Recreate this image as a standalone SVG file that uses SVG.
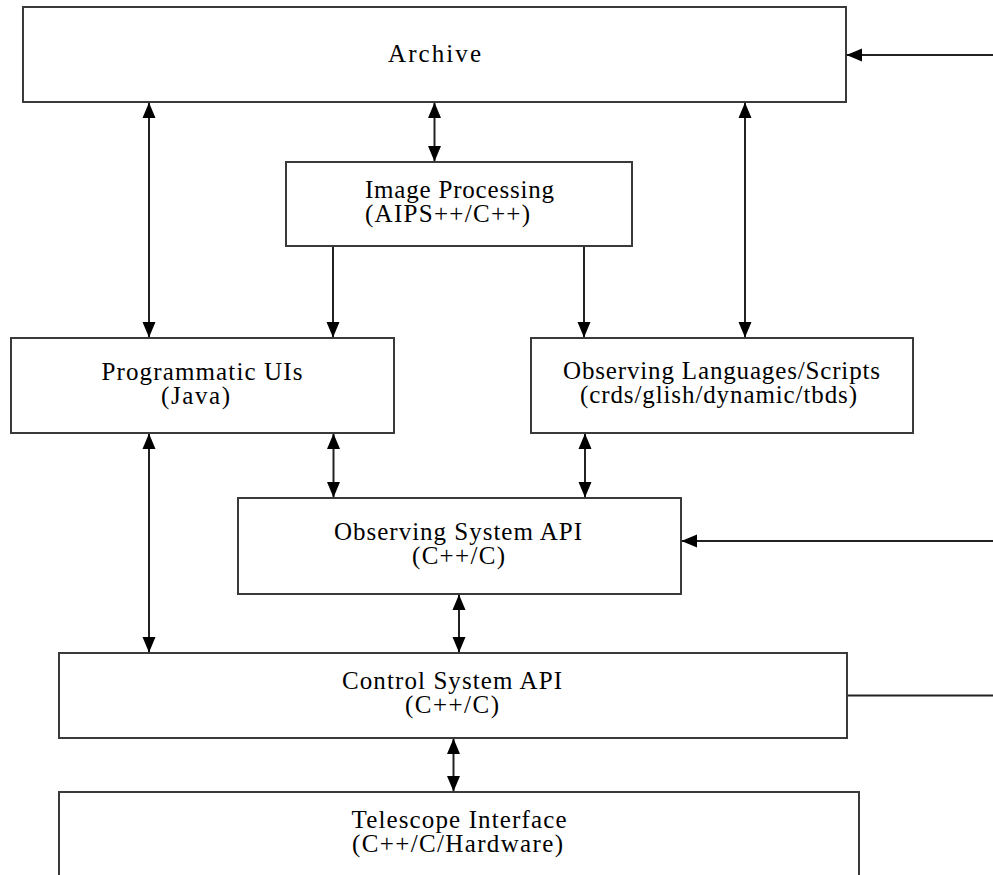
<svg xmlns="http://www.w3.org/2000/svg" width="993" height="875" viewBox="0 0 993 875">
<style>
.box{fill:#fff;stroke:#3a3a3a;stroke-width:2}
.t{font-family:"Liberation Serif","Times New Roman",serif;font-size:25px;fill:#000;text-anchor:middle}
.c{stroke:#222;stroke-width:2;fill:none}
</style>
<defs>
<marker id="ah" markerUnits="userSpaceOnUse" markerWidth="16" markerHeight="14" refX="15" refY="7" orient="auto-start-reverse">
<path d="M0,0.5 L15.5,7 L0,13.5 Z" fill="#000"/>
</marker>
</defs>
<rect width="993" height="875" fill="#fff"/>
<g id="archive"><rect class="box" x="23" y="7" width="823" height="95"/><text class="t" x="434.5" y="62" textLength="93" lengthAdjust="spacing">Archive</text></g>
<g id="image-processing"><rect class="box" x="286" y="162" width="346" height="84"/><text class="t" x="459.5" y="198" textLength="189" lengthAdjust="spacing">Image Processing</text><text class="t" x="447.5" y="222" textLength="165" lengthAdjust="spacing">(AIPS++/C++)</text></g>
<g id="programmatic-uis"><rect class="box" x="11" y="338" width="383" height="95"/><text class="t" x="202" y="380" textLength="201" lengthAdjust="spacing">Programmatic UIs</text><text class="t" x="195.5" y="404" textLength="69" lengthAdjust="spacing">(Java)</text></g>
<g id="observing-languages"><rect class="box" x="531" y="338" width="382" height="95"/><text class="t" x="721.5" y="379" textLength="317" lengthAdjust="spacing">Observing Languages/Scripts</text><text class="t" x="718.5" y="403" textLength="277" lengthAdjust="spacing">(crds/glish/dynamic/tbds)</text></g>
<g id="observing-system-api"><rect class="box" x="238" y="498" width="443" height="96"/><text class="t" x="458" y="540" textLength="248" lengthAdjust="spacing">Observing System API</text><text class="t" x="458.5" y="564" textLength="93" lengthAdjust="spacing">(C++/C)</text></g>
<g id="control-system-api"><rect class="box" x="59" y="653" width="788" height="85"/><text class="t" x="452" y="689" textLength="220" lengthAdjust="spacing">Control System API</text><text class="t" x="452" y="713" textLength="94" lengthAdjust="spacing">(C++/C)</text></g>
<g id="telescope-interface"><rect class="box" x="59" y="792" width="800" height="100"/><text class="t" x="459" y="828" textLength="215" lengthAdjust="spacing">Telescope Interface</text><text class="t" x="457.5" y="852" textLength="211" lengthAdjust="spacing">(C++/C/Hardware)</text></g>
<g id="connectors">
<line class="c" x1="149" y1="103" x2="149" y2="337" marker-start="url(#ah)" marker-end="url(#ah)"/>
<line class="c" x1="434.5" y1="103" x2="434.5" y2="161" marker-start="url(#ah)" marker-end="url(#ah)"/>
<line class="c" x1="745" y1="103" x2="745" y2="337" marker-start="url(#ah)" marker-end="url(#ah)"/>
<line class="c" x1="333" y1="247" x2="333" y2="337" marker-end="url(#ah)"/>
<line class="c" x1="584" y1="247" x2="584" y2="337" marker-end="url(#ah)"/>
<line class="c" x1="149" y1="434" x2="149" y2="652" marker-start="url(#ah)" marker-end="url(#ah)"/>
<line class="c" x1="333.5" y1="434" x2="333.5" y2="497" marker-start="url(#ah)" marker-end="url(#ah)"/>
<line class="c" x1="585" y1="434" x2="585" y2="497" marker-start="url(#ah)" marker-end="url(#ah)"/>
<line class="c" x1="459" y1="595" x2="459" y2="652" marker-start="url(#ah)" marker-end="url(#ah)"/>
<line class="c" x1="453.5" y1="739" x2="453.5" y2="791" marker-start="url(#ah)" marker-end="url(#ah)"/>
<line class="c" x1="993" y1="55" x2="847" y2="55" marker-end="url(#ah)"/>
<line class="c" x1="993" y1="541" x2="682" y2="541" marker-end="url(#ah)"/>
<line class="c" x1="848" y1="695.5" x2="993" y2="695.5"/>
</g>
</svg>
